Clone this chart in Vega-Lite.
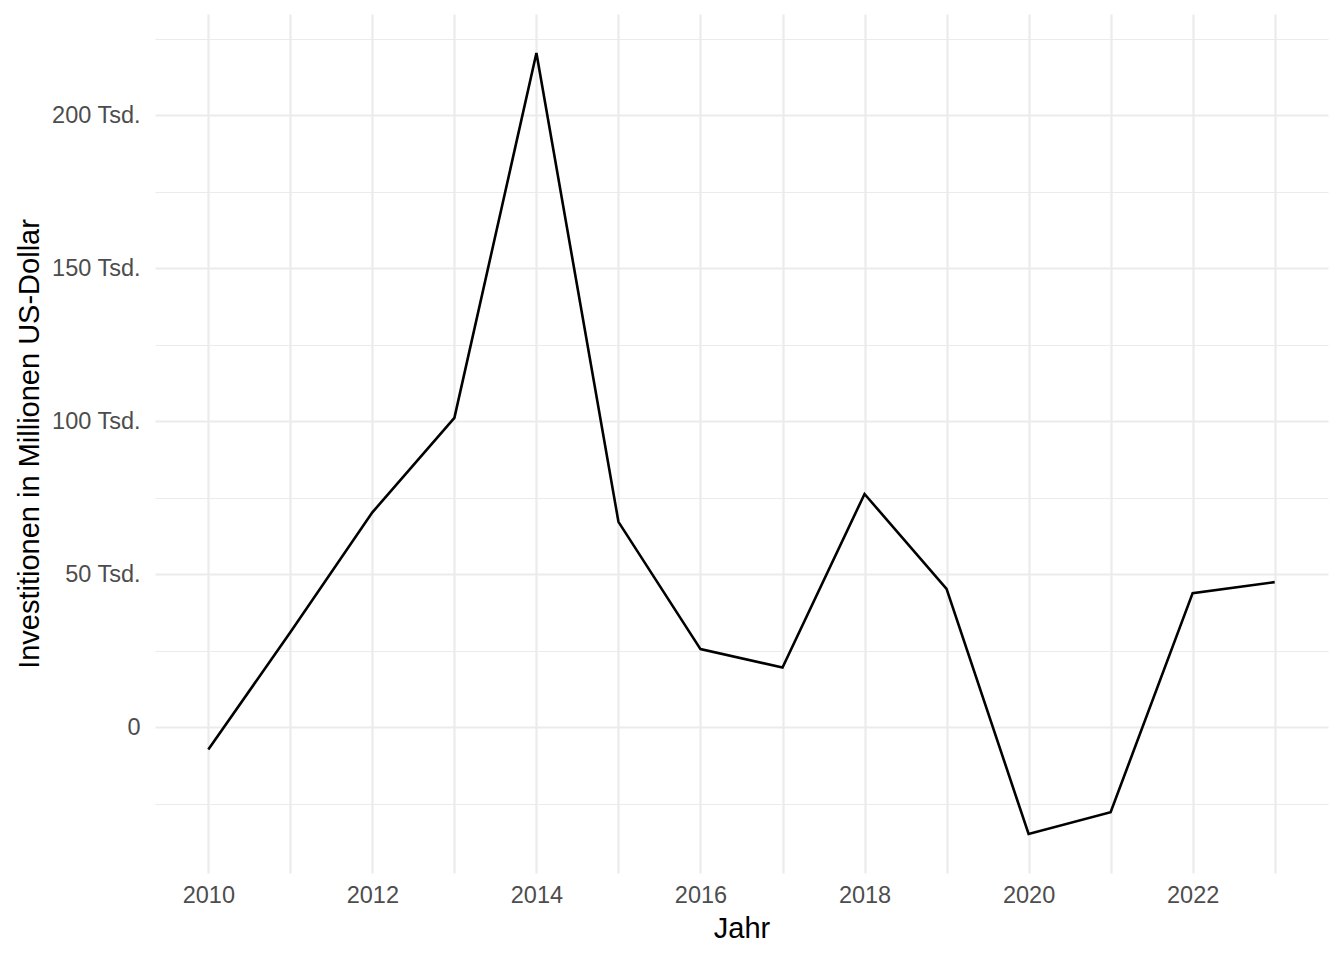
{
  "$schema": "https://vega.github.io/schema/vega-lite/v6.json",
  "autosize": {"type": "none"},
  "width": 1173,
  "height": 859,
  "padding": {"left": 155, "top": 14, "right": 16, "bottom": 87},
  "background": "white",
  "config": {
    "view": {"stroke": null},
    "font": "Liberation Sans",
    "axis": {
      "domain": false,
      "ticks": false,
      "gridColor": "#EBEBEB",
      "labelColor": "#4D4D4D",
      "labelFontSize": 23.5,
      "labelFont": "Liberation Sans",
      "titleFont": "Liberation Sans",
      "titleFontSize": 29,
      "titleFontWeight": "normal",
      "titleColor": "#000000"
    }
  },
  "data": {
    "values": [
      {"Jahr": 2010, "Investitionen": -7300},
      {"Jahr": 2011, "Investitionen": 31000},
      {"Jahr": 2012, "Investitionen": 70200},
      {"Jahr": 2013, "Investitionen": 101100},
      {"Jahr": 2014, "Investitionen": 220300},
      {"Jahr": 2015, "Investitionen": 67100},
      {"Jahr": 2016, "Investitionen": 25500},
      {"Jahr": 2017, "Investitionen": 19500},
      {"Jahr": 2018, "Investitionen": 76200},
      {"Jahr": 2019, "Investitionen": 45200},
      {"Jahr": 2020, "Investitionen": -34900},
      {"Jahr": 2021, "Investitionen": -27800},
      {"Jahr": 2022, "Investitionen": 43800},
      {"Jahr": 2023, "Investitionen": 47400}
    ]
  },
  "mark": {"type": "line", "color": "#000000", "strokeWidth": 2.6, "strokeCap": "butt"},
  "encoding": {
    "x": {
      "field": "Jahr",
      "type": "quantitative",
      "scale": {"domain": [2009.35, 2023.65], "nice": false, "zero": false},
      "axis": {
        "title": "Jahr",
        "values": [2010, 2011, 2012, 2013, 2014, 2015, 2016, 2017, 2018, 2019, 2020, 2021, 2022, 2023],
        "labelExpr": "datum.value % 2 === 0 ? format(datum.value, 'd') : ''",
        "gridWidth": 2.2,
        "labelPadding": 10,
        "titlePadding": 8
      }
    },
    "y": {
      "field": "Investitionen",
      "type": "quantitative",
      "scale": {"domain": [-47660, 233060], "nice": false, "zero": false},
      "axis": {
        "title": "Investitionen in Millionen US-Dollar",
        "values": [-25000, 0, 25000, 50000, 75000, 100000, 125000, 150000, 175000, 200000, 225000],
        "labelExpr": "datum.value === 0 ? '0' : (datum.value % 50000 === 0 ? format(datum.value / 1000, 'd') + ' Tsd.' : '')",
        "gridWidth": {"condition": {"test": "datum.value % 50000 === 0", "value": 2.2}, "value": 1.1},
        "labelPadding": 15,
        "titlePadding": 7
      }
    }
  }
}
